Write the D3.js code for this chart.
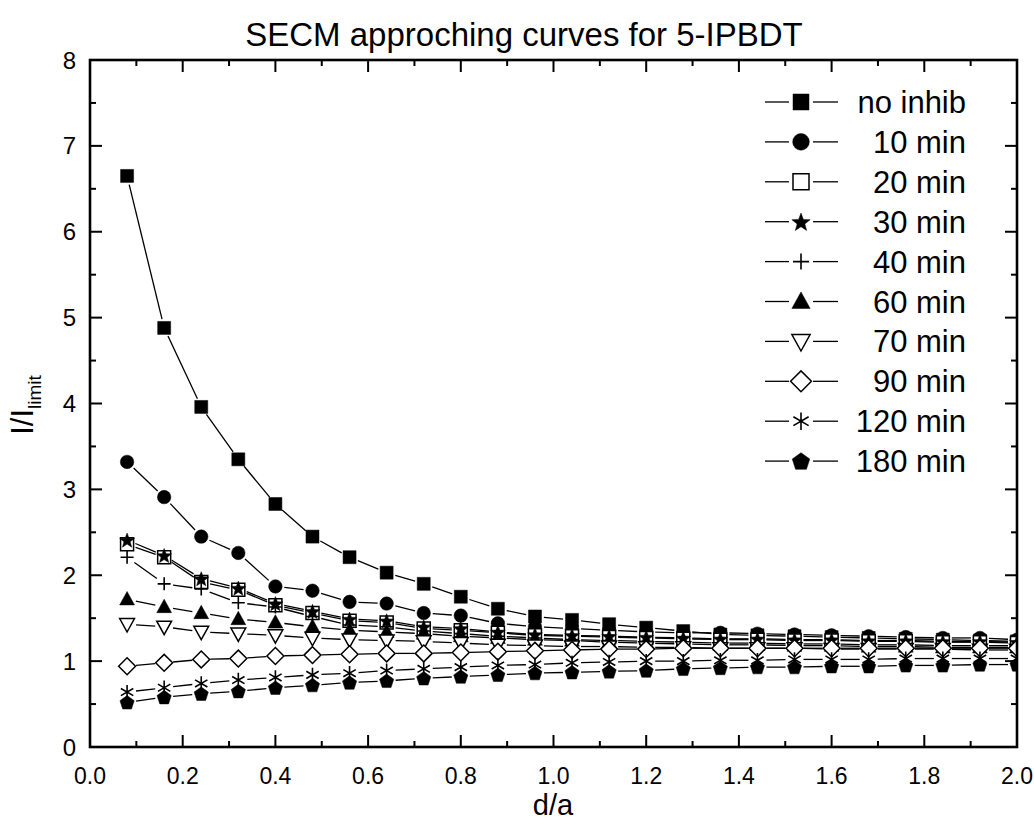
<!DOCTYPE html>
<html>
<head>
<meta charset="utf-8">
<script src="https://cdn.jsdelivr.net/npm/d3@7/dist/d3.min.js"></script>
<style>
  html, body { margin: 0; padding: 0; background: #fff; }
  svg { display: block; font-family: "Liberation Sans", Arial, sans-serif; }
</style>
</head>
<body>
<svg id="chart" width="1034" height="834"></svg>
<script>
// ---------- DATA ----------
const xValues = [0.08,0.16,0.24,0.32,0.40,0.48,0.56,0.64,0.72,0.80,0.88,0.96,1.04,1.12,1.20,1.28,1.36,1.44,1.52,1.60,1.68,1.76,1.84,1.92,2.00];

const noInhib = [6.65,4.88,3.96,3.35,2.83,2.45,2.21,2.03,1.90,1.75,1.61,1.52,1.48,1.43,1.39,1.35,1.31,1.30,1.29,1.28,1.27,1.26,1.25,1.24,1.23];
const min10  = [3.32,2.91,2.45,2.26,1.87,1.82,1.69,1.67,1.56,1.53,1.44,1.40,1.38,1.36,1.34,1.33,1.33,1.32,1.31,1.30,1.29,1.28,1.27,1.27,1.25];
const min20  = [2.36,2.21,1.92,1.83,1.65,1.56,1.47,1.45,1.38,1.36,1.33,1.30,1.29,1.28,1.27,1.26,1.25,1.25,1.24,1.24,1.23,1.23,1.22,1.22,1.21];
const min30  = [2.41,2.23,1.96,1.85,1.67,1.58,1.49,1.47,1.40,1.38,1.34,1.31,1.30,1.29,1.28,1.27,1.26,1.26,1.25,1.25,1.24,1.24,1.23,1.23,1.22];
const min40  = [2.21,1.90,1.84,1.68,1.63,1.52,1.42,1.40,1.35,1.32,1.29,1.27,1.25,1.24,1.23,1.22,1.21,1.21,1.20,1.20,1.19,1.19,1.18,1.18,1.18];
const min60  = [1.72,1.63,1.56,1.49,1.45,1.40,1.36,1.34,1.32,1.29,1.27,1.25,1.24,1.22,1.21,1.20,1.19,1.19,1.18,1.18,1.17,1.17,1.16,1.16,1.16];
const min70  = [1.43,1.40,1.34,1.32,1.30,1.27,1.25,1.24,1.23,1.21,1.19,1.18,1.17,1.17,1.16,1.16,1.15,1.15,1.15,1.14,1.14,1.14,1.14,1.13,1.13];
const min90  = [0.94,0.98,1.02,1.03,1.06,1.07,1.08,1.09,1.09,1.10,1.11,1.12,1.13,1.14,1.14,1.15,1.15,1.15,1.15,1.15,1.15,1.15,1.15,1.15,1.15];
const min120 = [0.64,0.69,0.74,0.78,0.81,0.84,0.86,0.89,0.91,0.93,0.95,0.96,0.98,0.99,1.00,1.00,1.01,1.01,1.02,1.02,1.02,1.03,1.03,1.03,1.03];
const min180 = [0.52,0.58,0.62,0.65,0.69,0.72,0.75,0.77,0.80,0.82,0.84,0.86,0.87,0.88,0.89,0.91,0.92,0.93,0.93,0.94,0.94,0.95,0.95,0.96,0.96];

const seriesNames = ["no inhib","10 min","20 min","30 min","40 min","60 min","70 min","90 min","120 min","180 min"];
const seriesValues = [noInhib,min10,min20,min30,min40,min60,min70,min90,min120,min180];
const seriesSymbols = ["square","circle","squareOpen","star","plus","triangle","triangleDownOpen","diamondOpen","asterisk","pentagon"];

const xTickLabels = ["0.0","0.2","0.4","0.6","0.8","1.0","1.2","1.4","1.6","1.8","2.0"];
const yTickLabels = ["0","1","2","3","4","5","6","7","8"];

const titleText = "SECM approching curves for 5-IPBDT";
const xLabelText = "d/a";

// ---------- LAYOUT ----------
const svg = d3.select("#chart");
const L = 90, R = 1017, T = 60, B = 747;
const x = d3.scaleLinear().domain([0, 2]).range([L, R]);
const y = d3.scaleLinear().domain([0, 8]).range([B, T]);

// ---------- SYMBOL PATHS ----------
function symbolPath(type, s) {
  const h = s / 2;
  switch (type) {
    case "square": case "squareOpen":
      return `M${-h},${-h}H${h}V${h}H${-h}Z`;
    case "circle":
      return d3.symbol(d3.symbolCircle, Math.PI * h * h * 1.08)();
    case "star": {
      let p = "";
      const ro = h * 1.2, ri = ro * 0.42;
      for (let i = 0; i < 10; i++) {
        const r = i % 2 === 0 ? ro : ri;
        const a = -Math.PI / 2 + i * Math.PI / 5;
        p += (i ? "L" : "M") + (r * Math.cos(a)).toFixed(2) + "," + (r * Math.sin(a) + h * 0.12).toFixed(2);
      }
      return p + "Z";
    }
    case "plus":
      return `M${-h},0H${h}M0,${-h}V${h}`;
    case "triangle": {
      const r = h * 1.2;
      return `M0,${-r}L${r * 0.95},${r * 0.72}L${-r * 0.95},${r * 0.72}Z`;
    }
    case "triangleDownOpen": {
      const r = h * 1.2;
      return `M0,${r}L${r * 0.95},${-r * 0.72}L${-r * 0.95},${-r * 0.72}Z`;
    }
    case "diamondOpen": {
      const r = h * 1.3;
      return `M0,${-r}L${r},0L0,${r}L${-r},0Z`;
    }
    case "asterisk": {
      const r = h * 1.1;
      const c = r * Math.cos(Math.PI / 6), sn = r * Math.sin(Math.PI / 6);
      return `M0,${-r}V${r}M${-c},${-sn}L${c},${sn}M${-c},${sn}L${c},${-sn}`;
    }
    case "pentagon": {
      let p = "";
      const r = h * 1.15;
      for (let i = 0; i < 5; i++) {
        const a = -Math.PI / 2 + i * 2 * Math.PI / 5;
        p += (i ? "L" : "M") + (r * Math.cos(a)).toFixed(2) + "," + (r * Math.sin(a) + h * 0.1).toFixed(2);
      }
      return p + "Z";
    }
  }
}
function symbolStyle(sel, type) {
  const open = type === "squareOpen" || type === "triangleDownOpen" || type === "diamondOpen";
  const lineOnly = type === "plus" || type === "asterisk";
  sel.attr("fill", lineOnly ? "none" : (open ? "#fff" : "#000"))
     .attr("stroke", "#000")
     .attr("stroke-width", lineOnly ? 1.6 : (open ? 1.5 : 0.5))
     .attr("stroke-linejoin", "miter");
}

// ---------- CLIP ----------
svg.append("defs").append("clipPath").attr("id", "plotclip")
  .append("rect").attr("x", L).attr("y", T).attr("width", R - L).attr("height", B - T);

const plot = svg.append("g").attr("clip-path", "url(#plotclip)");

const markerSize = 13;
const gap = 9;

seriesValues.forEach((vals, si) => {
  const pts = xValues.map((xv, i) => [x(xv), y(vals[i])]);
  const g = plot.append("g");
  for (let i = 0; i < pts.length - 1; i++) {
    const [x0, y0] = pts[i], [x1, y1] = pts[i + 1];
    const dx = x1 - x0, dy = y1 - y0, len = Math.hypot(dx, dy);
    if (len <= 2 * gap) continue;
    const ux = dx / len, uy = dy / len;
    g.append("line")
      .attr("x1", x0 + ux * gap).attr("y1", y0 + uy * gap)
      .attr("x2", x1 - ux * gap).attr("y2", y1 - uy * gap)
      .attr("stroke", "#000").attr("stroke-width", 1.3);
  }
  g.selectAll("path.sym").data(pts).join("path")
    .attr("class", "sym")
    .attr("transform", d => `translate(${d[0]},${d[1]})`)
    .attr("d", symbolPath(seriesSymbols[si], markerSize))
    .call(symbolStyle, seriesSymbols[si]);
});

// ---------- AXES ----------
const axes = svg.append("g");
const majorX = d3.range(0, 11).map(i => i * 0.2);
const minorX = d3.range(0, 10).map(i => 0.1 + i * 0.2);
const majorY = d3.range(0, 9);
const minorY = d3.range(0, 8).map(i => i + 0.5);
const tickW = 2, majLen = 12, minLen = 6;

function tick(x1, y1, x2, y2) {
  axes.append("line").attr("x1", x1).attr("y1", y1).attr("x2", x2).attr("y2", y2)
    .attr("stroke", "#000").attr("stroke-width", tickW);
}
majorX.forEach(v => { tick(x(v), B, x(v), B - majLen); tick(x(v), T, x(v), T + majLen); });
minorX.forEach(v => { tick(x(v), B, x(v), B - minLen); tick(x(v), T, x(v), T + minLen); });
majorY.forEach(v => { tick(L, y(v), L + majLen, y(v)); tick(R, y(v), R - majLen, y(v)); });
minorY.forEach(v => { tick(L, y(v), L + minLen, y(v)); tick(R, y(v), R - minLen, y(v)); });

axes.append("rect").attr("x", L).attr("y", T).attr("width", R - L).attr("height", B - T)
  .attr("fill", "none").attr("stroke", "#000").attr("stroke-width", 2.6);

// tick labels
svg.append("g").selectAll("text").data(majorX).join("text")
  .attr("x", d => x(d)).attr("y", 784)
  .attr("text-anchor", "middle").attr("font-size", 23)
  .text((d, i) => xTickLabels[i]);
svg.append("g").selectAll("text").data(majorY).join("text")
  .attr("x", 76).attr("y", d => y(d) + 8.5)
  .attr("text-anchor", "end").attr("font-size", 24)
  .text((d, i) => yTickLabels[i]);

// titles
svg.append("text").attr("x", 524).attr("y", 46).attr("text-anchor", "middle")
  .attr("font-size", 33).text(titleText);
svg.append("text").attr("x", 553).attr("y", 815).attr("text-anchor", "middle")
  .attr("font-size", 29).text(xLabelText);
const yl = svg.append("text").attr("transform", "translate(33,405) rotate(-90)")
  .attr("text-anchor", "middle").attr("font-size", 31);
yl.append("tspan").text("I/I");
yl.append("tspan").attr("font-size", 19).attr("dy", 8).text("limit");

// ---------- LEGEND ----------
const legend = svg.append("g");
seriesNames.forEach((name, i) => {
  const cy = 102 + i * 39.9;
  const g = legend.append("g");
  g.append("line").attr("x1", 765).attr("x2", 789).attr("y1", cy).attr("y2", cy)
    .attr("stroke", "#000").attr("stroke-width", 1.3);
  g.append("line").attr("x1", 813).attr("x2", 838).attr("y1", cy).attr("y2", cy)
    .attr("stroke", "#000").attr("stroke-width", 1.3);
  g.append("path").attr("transform", `translate(801,${cy})`)
    .attr("d", symbolPath(seriesSymbols[i], 16))
    .call(symbolStyle, seriesSymbols[i]);
  g.append("text").attr("x", 966).attr("y", cy + 11).attr("text-anchor", "end")
    .attr("font-size", 31).text(name);
});
</script>
</body>
</html>
